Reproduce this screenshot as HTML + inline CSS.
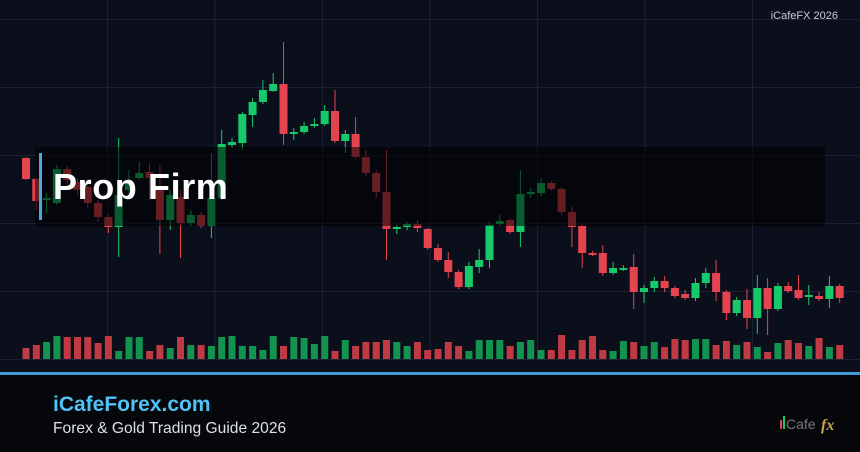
<!DOCTYPE html>
<html><head><meta charset="utf-8"><style>
html,body{margin:0;padding:0;width:860px;height:452px;overflow:hidden;background:#0b0f1b;font-family:"Liberation Sans",sans-serif}
</style></head><body>
<svg id="s" width="860" height="452" xmlns="http://www.w3.org/2000/svg" style="position:absolute;left:0;top:0">
<rect width="860" height="452" fill="#0b0f1b"/>
<g stroke="#1c2233" stroke-width="1">
<line x1="107.5" y1="0" x2="107.5" y2="360"/><line x1="215" y1="0" x2="215" y2="360"/><line x1="322.5" y1="0" x2="322.5" y2="360"/><line x1="430" y1="0" x2="430" y2="360"/><line x1="537.5" y1="0" x2="537.5" y2="360"/><line x1="645" y1="0" x2="645" y2="360"/><line x1="752.5" y1="0" x2="752.5" y2="360"/>
<line x1="0" y1="19.5" x2="860" y2="19.5"/><line x1="0" y1="87.5" x2="860" y2="87.5"/><line x1="0" y1="155.5" x2="860" y2="155.5"/><line x1="0" y1="223.5" x2="860" y2="223.5"/><line x1="0" y1="291.5" x2="860" y2="291.5"/><line x1="0" y1="359.5" x2="860" y2="359.5"/>
</g>
<g id="c"></g>
<rect x="35" y="147" width="790" height="79" fill="#000" opacity="0.55"/>
<rect x="39" y="153" width="3" height="67" fill="#4aa8e0"/>
<text x="53" y="199" fill="#fff" font-size="36" font-weight="bold" letter-spacing="0.6" font-family="Liberation Sans, sans-serif">Prop Firm</text>
<text x="838" y="19" fill="#c8ccd4" font-size="11" text-anchor="end" font-family="Liberation Sans, sans-serif">iCafeFX 2026</text>
<rect x="0" y="372" width="860" height="3" fill="#3f9ad6"/>
<rect x="0" y="375" width="860" height="77" fill="#05070b"/>
<text x="53" y="411" fill="#4fc3f7" font-size="21" font-weight="bold" font-family="Liberation Sans, sans-serif">iCafeForex.com</text>
<text x="53" y="433" fill="#dde0e4" font-size="15.6" font-family="Liberation Sans, sans-serif">Forex &amp; Gold Trading Guide 2026</text>
<rect x="780" y="420" width="2" height="9" fill="#e5434f"/><rect x="783" y="416" width="2" height="13" fill="#16c96a"/>
<text x="786" y="429" fill="#777" font-size="14" font-family="Liberation Sans, sans-serif">Cafe</text>
<text x="821" y="430" fill="#c9a24a" font-size="16" font-style="italic" font-weight="bold" font-family="Liberation Serif, serif">fx</text>
</svg>
<script>
var d=[[158,179,157,180],[179,201,178,210],[200,198,193,213],[203,169,165,205],[169,180,166,185],[182,190,178,195],[187,203,185,208],[203,217,200,222],[217,227,215,233],[227,195,138,257],[190,182,170,195],[178,173,162,180],[172,178,163,200],[187,220,165,254],[220,195,190,230],[197,223,190,258],[223,215,210,226],[215,226,212,228],[226,198,153,238],[198,144,130,200],[145,142,138,148],[143,114,112,150],[115,102,98,127],[102,90,80,104],[91,84,73,92],[84,134,42,145],[134,132,128,140],[132,126,122,134],[126,124,118,128],[124,111,105,126],[111,141,90,143],[141,134,130,153],[134,157,117,159],[157,173,150,176],[173,192,170,198],[192,229,150,260],[229,227,225,234],[227,224,222,230],[224,228,220,232],[229,248,228,250],[248,260,244,262],[260,272,252,278],[272,287,270,289],[287,266,262,289],[267,260,249,273],[260,225,222,268],[224,221,215,226],[220,232,218,234],[232,194,170,247],[194,192,188,198],[193,183,178,196],[183,189,181,191],[189,212,187,215],[212,227,207,247],[226,253,224,268],[253,254,251,256],[253,273,245,276],[273,268,262,275],[269,268,265,271],[267,292,254,309],[292,288,285,303],[288,281,277,292],[281,288,276,292],[288,296,286,298],[294,298,290,300],[298,283,278,301],[283,273,268,288],[273,292,260,301],[292,313,290,320],[313,300,297,316],[300,318,289,329],[318,288,275,334],[288,309,278,335],[309,286,283,311],[286,291,282,293],[290,298,275,300],[297,295,285,305],[296,299,292,301],[299,286,276,308],[286,298,284,303]];
var vt=[11,14,17,23,22,22,22,16,23,8,22,22,8,14,11,22,14,14,13,22,23,13,13,9,23,13,22,21,15,23,8,19,13,17,17,19,17,13,17,9,10,17,13,8,19,19,19,13,17,19,9,9,24,9,19,23,9,8,18,17,13,17,12,20,19,20,20,14,18,14,17,12,7,16,19,16,13,21,12,14];
var g=document.getElementById('c'),h='';
for(var i=0;i<d.length;i++){var x=26+i*10.3,o=d[i][0],c=d[i][1],up=c<o,col=up?'#16c96a':'#e5434f';
h+='<line x1="'+x+'" x2="'+x+'" y1="'+d[i][2]+'" y2="'+d[i][3]+'" stroke="'+col+'" stroke-width="1"/>';
var t=Math.min(o,c),b=Math.max(Math.abs(o-c),2);
h+='<rect x="'+(x-4)+'" y="'+t+'" width="8" height="'+b+'" fill="'+col+'"/>';
var v=vt[i]||12;h+='<rect x="'+(x-3.5)+'" y="'+(359-v)+'" width="7" height="'+v+'" fill="'+(up?'#12934f':'#c03a44')+'"/>';}
g.innerHTML=h;
</script>
</body></html>
